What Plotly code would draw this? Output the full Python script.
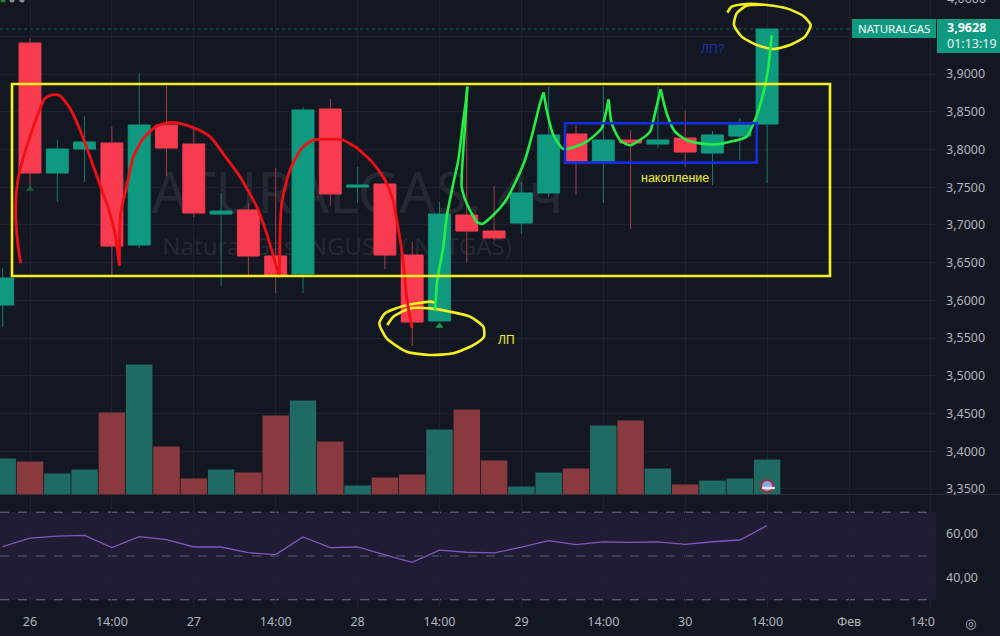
import plotly.graph_objects as go

# ---- candles (one per 4 hours), index 0 = "26" ----
bar_index = list(range(-1, 28))
opens = [3.5938, 3.9411, 3.7688, 3.8006, 3.8086, 3.6734, 3.8324, 3.8072, 3.7144, 3.7198, 3.6588, 3.6349, 3.8536, 3.7502, 3.7542, 3.6601, 3.5727, 3.7131, 3.6919, 3.7025, 3.7423, 3.8205, 3.7847, 3.8125, 3.8072, 3.8152, 3.7953, 3.8178, 3.8337]
highs = [3.6429, 3.9477, 3.8125, 3.8443, 3.8298, 3.9013, 3.8841, 3.8284, 3.7423, 3.7290, 3.7754, 3.8563, 3.8669, 3.7767, 3.7635, 3.6773, 3.7304, 3.8814, 3.7516, 3.7569, 3.8828, 3.8324, 3.8828, 3.8258, 3.8828, 3.8510, 3.8245, 3.8417, 3.9596]
lows = [3.5647, 3.7502, 3.7304, 3.7569, 3.6336, 3.6694, 3.7648, 3.7105, 3.6190, 3.6336, 3.6098, 3.6098, 3.7250, 3.7290, 3.6416, 3.5395, 3.5727, 3.6508, 3.6800, 3.6879, 3.7370, 3.7396, 3.7290, 3.6946, 3.8019, 3.7767, 3.7529, 3.7860, 3.7555]
closes = [3.6296, 3.7688, 3.8006, 3.8099, 3.6720, 3.8324, 3.8019, 3.7158, 3.7184, 3.6588, 3.6336, 3.8523, 3.7410, 3.7529, 3.6601, 3.5713, 3.7144, 3.6919, 3.6827, 3.7423, 3.8192, 3.7847, 3.8125, 3.8086, 3.8125, 3.7966, 3.8192, 3.8324, 3.9596]
volumes = [36, 33, 21, 25, 82, 130, 48, 16, 25, 22, 79, 94, 53, 9, 17, 20, 65, 85, 34, 8, 22, 26, 69, 74, 26, 10, 14, 16, 35]
rsi = [54.3, 58.2, 59.1, 59.4, 53.8, 58.8, 57.5, 54.1, 54.1, 51.5, 50.6, 58.7, 53.8, 54.1, 50.5, 47.1, 52.7, 51.7, 51.4, 54.0, 57.0, 55.2, 56.4, 56.2, 56.4, 55.3, 56.5, 57.3, 63.9]

price_ticks = [3.35, 3.40, 3.45, 3.50, 3.55, 3.60, 3.65, 3.70, 3.75, 3.80, 3.85, 3.90, 3.95]
price_labels = ["3,3500", "3,4000", "3,4500", "3,5000", "3,5500", "3,6000", "3,6500", "3,7000", "3,7500", "3,8000", "3,8500", "3,9000", ""]
rsi_ticks = [40, 60]
rsi_labels = ["40,00", "60,00"]
time_ticks = [0, 3, 6, 9, 12, 15, 18, 21, 24, 27, 30, 33]
time_labels = ["26", "14:00", "27", "14:00", "28", "14:00", "29", "14:00", "30", "14:00", "Фев", ""]

# ---- hand-drawn strokes, in bar index / price units ----
red_x = [-0.342, -0.464, -0.525, -0.464, -0.305, 0.0, 0.305, 0.549, 0.855, 1.099, 1.465, 1.832, 2.198, 2.564, 2.869, 3.114, 3.272, None,
         3.272, 3.321, 3.541, 3.785, 4.151, 4.64, 5.128, 5.494, 6.105, 6.593, 7.204, 7.692, 8.303, 8.669, 9.133, None,
         9.133, 9.219, 9.524, 9.951, 10.378, 11.355, 11.465, 11.978, 12.564, 13.004, 13.297, 13.48, 13.663, 13.81, 13.993]
red_y = [3.6491, 3.68, 3.7242, 3.7551, 3.7816, 3.817, 3.8479, 3.8678, 3.8726, 3.8713, 3.8545, 3.8258, 3.7904, 3.7529, 3.722, 3.6888, 3.646, None,
         3.646, 3.7153, 3.7507, 3.7904, 3.8147, 3.8311, 3.8359, 3.8346, 3.8271, 3.817, 3.7882, 3.7639, 3.7242, 3.6888, 3.6305, None,
         3.6305, 3.7286, 3.7728, 3.8015, 3.8125, 3.8134, 3.8125, 3.8019, 3.782, 3.7595, 3.733, 3.6972, 3.6535, 3.6005, 3.5634]
green_x = [14.835, 14.921, 15.14, 15.263, 15.507, 15.69, 15.873, 15.971, 16.02, None,
           16.02, 15.934, 15.812, 15.995, 16.361, 16.569, 16.972, 17.399, 17.643, 18.132, 18.437, 18.681, 18.816, None,
           18.816, 18.925, 19.17, 19.536, 19.902, 20.391, 20.94, 21.062, 21.197, None,
           21.197, 21.307, 21.612, 21.978, 22.345, 22.711, 22.894, 23.102, None,
           23.102, 23.321, 23.627, 24.054, 24.542, 25.153, 25.641, 26.252, 26.557, 26.862, 27.046, 27.168]
green_y = [3.5872, 3.627, 3.6712, 3.7109, 3.7551, 3.786, 3.839, 3.8655, 3.8832, None,
           3.8832, 3.8302, 3.7507, 3.7286, 3.7043, 3.7012, 3.7131, 3.7308, 3.7463, 3.786, 3.8258, 3.8611, 3.8757, None,
           3.8757, 3.8523, 3.8192, 3.8006, 3.8028, 3.8103, 3.828, 3.8435, 3.8664, None,
           3.8664, 3.8346, 3.8125, 3.8055, 3.8125, 3.8236, 3.8479, 3.8797, None,
           3.8797, 3.8479, 3.8236, 3.8125, 3.8081, 3.8068, 3.8103, 3.817, 3.839, 3.8744, 3.9097, 3.9517]
ring_low_x = [13.089, 13.309, 13.919, 14.652, 15.385, 16.117, 16.606, 16.63, 16.239, 15.507, 14.652, 13.797, 13.065, 12.796, 13.004, 13.675, 14.652, 14.835]
ring_low_y = [3.5673, 3.5784, 3.5894, 3.5894, 3.585, 3.5784, 3.5651, 3.5519, 3.5408, 3.5298, 3.5276, 3.532, 3.5497, 3.5695, 3.5828, 3.5925, 3.5983, 3.5969]
ring_high_x = [25.544, 25.702, 26.252, 26.984, 27.717, 28.328, 28.596, 28.388, 27.839, 27.229, 26.618, 26.069, 25.788, 25.886, 26.252, 26.862]
ring_high_y = [3.9813, 3.9892, 3.9928, 3.9915, 3.987, 3.9769, 3.965, 3.9495, 3.9384, 3.9331, 3.9384, 3.9495, 3.965, 3.9804, 3.9906, 3.9919]
range_box = dict(x0=-0.659, x1=29.304, y0=3.6323, y1=3.8867)
accum_box = dict(x0=19.598, x1=26.62, y0=3.7825, y1=3.8347)
signal_x = [0, 15]
signal_y = [3.7475, 3.5660]
signal_colors = ["#12603f", "#12a050"]

BG = "#131722"
GRID = "#1e222d"
TEXT = "#b2b5be"
UP = "#0f9a80"
DOWN = "#f93b4f"
YELLOW = "#f5f01e"
TAG = "#0f9a80"
UI = "Noto Sans"
DRAW = "Liberation Sans"

X_RANGE = [-1.0989, 33.187]
HEIGHT_PLOT = 607
MAIN_FROM = (HEIGHT_PLOT - 494.5) / HEIGHT_PLOT
RSI_TO = (HEIGHT_PLOT - 495) / HEIGHT_PLOT

fig = go.Figure()

body_high = [max(o, c) for o, c in zip(opens, closes)]
body_low = [min(o, c) for o, c in zip(opens, closes)]
vol_colors = ["#8a3a3e" if c < o else "#1f6b63" for o, c in zip(opens, closes)]
fig.add_trace(go.Bar(x=bar_index, y=volumes, yaxis="y2", marker=dict(color=vol_colors, line_width=0),
                     width=0.97, hoverinfo="skip", showlegend=False))
# wicks
fig.add_trace(go.Candlestick(x=bar_index, open=opens, high=highs, low=lows, close=closes, whiskerwidth=0,
                             increasing=dict(fillcolor="#17796b", line=dict(color="#17796b", width=1)),
                             decreasing=dict(fillcolor="#a83a4c", line=dict(color="#a83a4c", width=1)),
                             showlegend=False, hoverinfo="skip"))
# bodies on top of the wicks
fig.add_trace(go.Candlestick(x=bar_index, open=opens, high=body_high, low=body_low, close=closes, whiskerwidth=0,
                             increasing=dict(fillcolor=UP, line=dict(color=UP, width=0.5)),
                             decreasing=dict(fillcolor=DOWN, line=dict(color=DOWN, width=0.5)),
                             showlegend=False, hoverinfo="skip"))
fig.add_trace(go.Scatter(x=signal_x, y=signal_y, mode="markers", showlegend=False, hoverinfo="skip",
                         marker=dict(symbol="triangle-up", size=7, color=signal_colors)))
for xs, ys, col, w in [(ring_low_x, ring_low_y, YELLOW, 2.6), (ring_high_x, ring_high_y, YELLOW, 2.6),
                       (red_x, red_y, "#f00f14", 2.8), (green_x, green_y, "#22ee44", 2.6)]:
    fig.add_trace(go.Scatter(x=xs, y=ys, mode="lines", line=dict(color=col, width=w, shape="spline", smoothing=0.6),
                             showlegend=False, hoverinfo="skip", connectgaps=False))
fig.add_trace(go.Scatter(x=bar_index, y=rsi, yaxis="y3", mode="lines", line=dict(color="#7e57c2", width=1.3),
                         showlegend=False, hoverinfo="skip"))
fig.add_trace(go.Scatter(x=[27], y=[8.5], yaxis="y2", mode="markers", showlegend=False, hoverinfo="skip",
                         marker=dict(symbol="circle", size=12, color="#7fa8e8", line=dict(color="#a82c34", width=2))))
fig.add_trace(go.Scatter(x=[27.05], y=[6.5], yaxis="y2", mode="markers", showlegend=False, hoverinfo="skip",
                         marker=dict(symbol="line-ew", size=9, line=dict(color="#f0e4e4", width=2.5))))

def icon(px, color):
    return dict(type="circle", xref="paper", yref="paper", x0=(px - 2.5) / 936, x1=(px + 2.5) / 936,
                y0=(HEIGHT_PLOT - 2.5) / HEIGHT_PLOT, y1=(HEIGHT_PLOT + 2.5) / HEIGHT_PLOT, fillcolor=color, line_width=0)

shapes = [
    dict(type="rect", xref="x", yref="y", **range_box, line=dict(color=YELLOW, width=2.6)),
    dict(type="rect", xref="x", yref="y", **accum_box, line=dict(color="#1330d8", width=2.6)),
    dict(type="line", xref="paper", yref="y", x0=0, x1=1, y0=closes[-1], y1=closes[-1],
         line=dict(color="#1f5f5a", width=1, dash="dot"), layer="below"),
    # RSI band and its guide lines
    dict(type="rect", xref="paper", yref="y3", x0=0, x1=1, y0=30, y1=70, fillcolor="#201c33", line_width=0, layer="below"),
    dict(type="line", xref="paper", yref="y3", x0=0, x1=1, y0=70, y1=70, line=dict(color="#6f7280", width=1, dash="dash"), layer="below"),
    dict(type="line", xref="paper", yref="y3", x0=0, x1=1, y0=50, y1=50, line=dict(color="#5c5e6e", width=1, dash="dash"), layer="below"),
    dict(type="line", xref="paper", yref="y3", x0=0, x1=1, y0=30, y1=30, line=dict(color="#6f7280", width=1, dash="dash"), layer="below"),
    # pane separator
    dict(type="line", xref="paper", yref="paper", x0=0, x1=1000 / 936, y0=MAIN_FROM, y1=MAIN_FROM, line=dict(color="#2a2e39", width=1), layer="below"),
    # watermark
    dict(type="rect", xref="x", yref="y", x0=3.0, x1=19.4, y0=3.70, y1=3.78, line_width=0, fillcolor="rgba(0,0,0,0)", layer="below",
         label=dict(text="NATURALGAS, 4ч", font=dict(family=UI, size=57, color="#252933"), textposition="middle center")),
    dict(type="rect", xref="x", yref="y", x0=4.8, x1=17.7, y0=3.65, y1=3.69, line_width=0, fillcolor="rgba(0,0,0,0)", layer="below",
         label=dict(text="Natural Gas (NGUSD / NATGAS)", font=dict(family=UI, size=24, color="#252933"), textposition="middle center")),
    # value tags
    dict(type="rect", xref="paper", yref="paper", x0=852 / 936, x1=936 / 936, y0=(HEIGHT_PLOT - 38) / HEIGHT_PLOT, y1=(HEIGHT_PLOT - 19) / HEIGHT_PLOT, fillcolor=TAG, line_width=0),
    dict(type="rect", xref="paper", yref="paper", x0=937 / 936, x1=1000 / 936, y0=(HEIGHT_PLOT - 53) / HEIGHT_PLOT, y1=(HEIGHT_PLOT - 19) / HEIGHT_PLOT, fillcolor=TAG, line_width=0),
    # header icons at the top edge
    icon(3, "#1f8a3a"), icon(12, "#8a8d96"), icon(22, "#8a8d96"),
]

def fixed_text(px, py, text, size, color, family=UI, xanchor="center", yanchor="middle"):
    return dict(x=px / 936, y=(HEIGHT_PLOT - py) / HEIGHT_PLOT, xref="paper", yref="paper", xanchor=xanchor, yanchor=yanchor,
                text=text, showarrow=False, font=dict(family=family, size=size, color=color))

annotations = [
    dict(x=17.47, y=3.5474, xref="x", yref="y", text="ЛП", showarrow=False, font=dict(family=DRAW, size=12, color=YELLOW)),
    dict(x=23.63, y=3.7626, xref="x", yref="y", text="накопление", showarrow=False, font=dict(family=DRAW, size=12.5, color=YELLOW)),
    dict(x=25.02, y=3.9331, xref="x", yref="y", text="ЛП?", showarrow=False, font=dict(family=DRAW, size=12, color="#1a34a8")),
    fixed_text(894, 29, "NATURALGAS", 11.5, "#ffffff"),
    fixed_text(945, 28, "<b>3,9628</b>", 12.5, "#ffffff", xanchor="left"),
    fixed_text(945, 44, "01:13:19", 12.5, "#e8f4f0", xanchor="left"),
    fixed_text(945, -2, "4,0000", 12.5, TEXT, xanchor="left"),
    fixed_text(937, 621, "14:0", 12.5, TEXT, xanchor="right"),
    fixed_text(970, 623, "◎", 13, TEXT, family="DejaVu Sans"),
]

fig.update_layout(
    width=1000, height=636, autosize=False,
    paper_bgcolor=BG, plot_bgcolor=BG,
    margin=dict(l=0, r=64, t=0, b=29),
    barmode="overlay", boxgap=0.2, boxgroupgap=0, boxmode="overlay",
    showlegend=False, shapes=shapes, annotations=annotations,
    font=dict(family=UI, size=12.5, color=TEXT),
    xaxis=dict(range=X_RANGE, tickmode="array", tickvals=time_ticks, ticktext=time_labels, showgrid=True, gridcolor=GRID,
               gridwidth=1, zeroline=False, showline=False, ticks="", rangeslider=dict(visible=False), anchor="y3",
               tickfont=dict(family=UI, size=12.5, color=TEXT), ticklabelstandoff=5),
    yaxis=dict(domain=[MAIN_FROM, 1], range=[3.3427, 3.9981], side="right", tickmode="array", tickvals=price_ticks, ticktext=price_labels,
               showgrid=True, gridcolor=GRID, gridwidth=1, zeroline=False, showline=False, ticks="", ticklabelstandoff=9,
               tickfont=dict(family=UI, size=12.5, color=TEXT)),
    yaxis2=dict(overlaying="y", range=[0, 494.5], visible=False),
    yaxis3=dict(domain=[0, RSI_TO], range=[26.7, 77.85], side="right", tickmode="array", tickvals=rsi_ticks, ticktext=rsi_labels,
                showgrid=True, gridcolor=GRID, gridwidth=1, zeroline=False, showline=False, ticks="", ticklabelstandoff=9,
                tickfont=dict(family=UI, size=12.5, color=TEXT)),
)

fig.write_html("out.html", config=dict(displayModeBar=False),
               post_script="document.body.style.margin='0';document.body.style.background='#131722';document.body.style.overflow='hidden';")
